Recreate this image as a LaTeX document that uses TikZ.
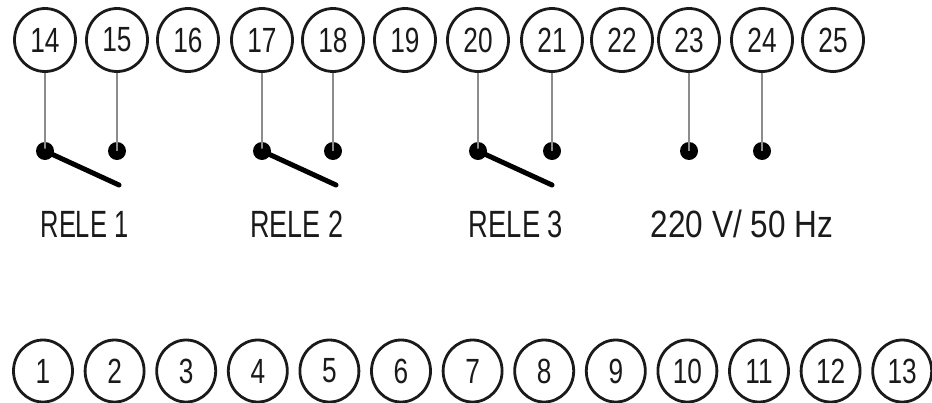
\documentclass[tikz,border=0pt]{standalone}
\usepackage{fontspec}
\setmainfont{Liberation Sans}
\usetikzlibrary{shapes.geometric}
\definecolor{ink}{HTML}{1A1A1A}
\definecolor{wire}{HTML}{8C8C8C}
\tikzset{
  term/.style={ellipse, draw=ink, line width=2.8pt, inner sep=0pt,
    minimum width=61pt, minimum height=63pt, text=ink,
    font=\fontsize{35}{35}\selectfont},
  bterm/.style={term, minimum width=59pt, minimum height=62pt},
  wireline/.style={draw=wire, line width=2pt},
  contact/.style={circle, fill=black, inner sep=0pt, minimum size=18pt},
  blade/.style={draw=black, line width=5pt, line cap=round},
  lbl/.style={text=ink, font=\fontsize{38}{38}\selectfont, inner sep=0pt}
}
\newcommand{\nar}[1]{\scalebox{0.75}[1]{#1}}
\begin{document}
\begin{tikzpicture}[x=1pt,y=-1pt]
\useasboundingbox (0,0) rectangle (932,402);
% top terminals
\foreach \n/\x in {14/45,15/117,16/188,17/262,18/333,19/405,20/478,21/552,22/622,23/689,24/762,25/833}
  \node[term] (t\n) at (\x,40) {\nar{\n}};
% bottom terminals
\foreach \n in {1,...,13}
  \node[bterm] (b\n) at ({43+71.6*(\n-1)},371) {\nar{\n}};
% contacts
\foreach \n/\x in {14/45,15/117,17/262,18/333,20/478,21/552,23/689,24/762}{
  \node[contact] (d\n) at (\x,151) {};
  \draw[wireline] (t\n.south) -- (d\n.center);
}
% switch blades
\foreach \n/\x in {14/45,17/262,20/478}{
  \coordinate (s\n) at (\x+74,185);
  \draw[blade] (d\n.center) -- (s\n);
}
% labels
\node[lbl] (r1) at (84.5,224) {\scalebox{0.67}[1]{RELE 1}};
\node[lbl] (r2) at (297,224) {\scalebox{0.71}[1]{RELE 2}};
\node[lbl] (r3) at (516,224) {\scalebox{0.72}[1]{RELE 3}};
\node[lbl] (pw) at (742,224) {\scalebox{0.83}[1]{220 V/ 50 Hz}};
\end{tikzpicture}
\end{document}
